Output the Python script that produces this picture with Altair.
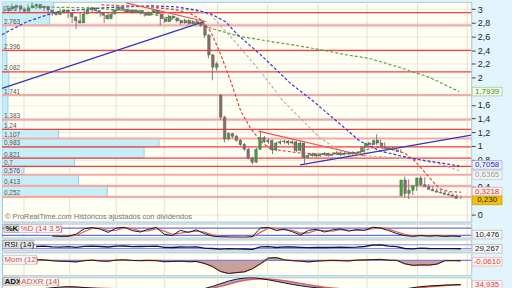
import altair as alt
import pandas as pd

FONT = "Liberation Sans"

# ---------------- price candles (daily-ish, index based) ----------------
opens = [2.98, 3.01, 3.03, 3.05, 3.00, 2.97, 3.02, 3.05, 3.07, 3.02,
         3.04, 2.99, 2.95, 2.92, 2.96, 2.99, 2.95, 2.89, 2.83, 2.80,
         2.93, 2.99, 3.02, 2.98, 2.95, 2.91, 2.86, 2.93, 2.99, 3.03,
         3.00, 2.96, 2.99, 2.95, 2.98, 2.94, 2.91, 2.95, 2.98, 2.93,
         2.86, 2.82, 2.90, 2.87, 2.83, 2.80, 2.84, 2.79, 2.82, 2.80,
         2.77, 2.62, 2.33, 2.15, 1.74, 1.42, 1.10, 1.18, 1.14, 1.08,
         1.02, 0.95, 0.82, 0.76, 0.95, 1.12, 1.06, 1.08, 0.94, 1.04,
         1.06, 1.07, 1.04, 1.06, 0.93, 1.04, 0.83, 0.86, 0.88, 0.85,
         0.87, 0.89, 0.86, 0.88, 0.90, 0.87, 0.89, 0.88, 0.90, 0.89,
         0.91, 0.98, 1.04, 1.02, 1.08, 1.04, 0.98, 0.96, 0.97, 0.94,
         0.27, 0.50, 0.30, 0.35, 0.42, 0.53, 0.43, 0.40, 0.36, 0.34,
         0.32, 0.31, 0.29, 0.28, 0.26]
highs = [3.04, 3.06, 3.08, 3.07, 3.02, 3.03, 3.07, 3.10, 3.08, 3.06,
         3.05, 3.00, 2.97, 2.97, 3.01, 3.00, 2.96, 2.90, 2.86, 2.95,
         3.01, 3.04, 3.03, 2.99, 2.96, 2.92, 2.95, 3.00, 3.05, 3.04,
         3.01, 3.01, 3.00, 3.00, 2.99, 2.95, 2.97, 3.00, 2.99, 2.94,
         2.88, 2.92, 2.91, 2.88, 2.85, 2.86, 2.85, 2.84, 2.85, 2.82,
         2.78, 2.64, 2.35, 2.23, 1.76, 1.44, 1.20, 1.19, 1.16, 1.10,
         1.04, 0.97, 0.84, 0.97, 1.22, 1.14, 1.11, 1.09, 1.06, 1.08,
         1.09, 1.08, 1.08, 1.07, 1.07, 1.05, 0.88, 0.90, 0.89, 0.89,
         0.91, 0.90, 0.90, 0.92, 0.91, 0.91, 0.90, 0.92, 0.91, 0.93,
         1.00, 1.06, 1.05, 1.17, 1.09, 1.05, 0.99, 0.99, 0.98, 0.95,
         0.55, 0.51, 0.37, 0.44, 0.56, 0.54, 0.44, 0.41, 0.38, 0.36,
         0.34, 0.32, 0.30, 0.29, 0.27]
lows = [2.96, 2.99, 3.00, 2.98, 2.95, 2.96, 3.00, 3.03, 3.00, 3.00,
        2.97, 2.93, 2.90, 2.91, 2.94, 2.93, 2.87, 2.80, 2.71, 2.79,
        2.91, 2.97, 2.96, 2.93, 2.89, 2.80, 2.85, 2.92, 2.98, 2.98,
        2.95, 2.95, 2.93, 2.94, 2.92, 2.89, 2.90, 2.94, 2.91, 2.76,
        2.80, 2.81, 2.85, 2.81, 2.77, 2.79, 2.77, 2.78, 2.78, 2.74,
        2.58, 2.28, 1.96, 2.10, 1.38, 1.05, 1.08, 1.11, 1.06, 1.00,
        0.93, 0.80, 0.73, 0.75, 0.94, 1.04, 1.03, 0.88, 0.92, 1.02,
        1.03, 1.01, 1.02, 0.91, 0.92, 0.73, 0.82, 0.84, 0.83, 0.84,
        0.86, 0.84, 0.85, 0.87, 0.85, 0.86, 0.86, 0.87, 0.87, 0.88,
        0.90, 0.97, 1.00, 1.01, 1.02, 0.97, 0.94, 0.95, 0.92, 0.90,
        0.24, 0.22, 0.28, 0.34, 0.41, 0.41, 0.38, 0.34, 0.32, 0.30,
        0.29, 0.27, 0.26, 0.24, 0.22]
closes = [3.01, 3.03, 3.05, 3.00, 2.97, 3.02, 3.05, 3.07, 3.02, 3.04,
          2.99, 2.95, 2.92, 2.96, 2.99, 2.95, 2.89, 2.83, 2.80, 2.93,
          2.99, 3.02, 2.98, 2.95, 2.91, 2.86, 2.93, 2.99, 3.03, 3.00,
          2.96, 2.99, 2.95, 2.98, 2.94, 2.91, 2.95, 2.98, 2.93, 2.86,
          2.82, 2.90, 2.87, 2.83, 2.80, 2.84, 2.79, 2.82, 2.80, 2.77,
          2.62, 2.33, 2.15, 2.20, 1.42, 1.10, 1.18, 1.14, 1.08, 1.02,
          0.95, 0.82, 0.76, 0.95, 1.12, 1.06, 1.08, 0.94, 1.04, 1.06,
          1.07, 1.04, 1.06, 0.93, 1.04, 0.83, 0.86, 0.88, 0.85, 0.87,
          0.89, 0.86, 0.88, 0.90, 0.87, 0.89, 0.88, 0.90, 0.89, 0.91,
          0.98, 1.04, 1.02, 1.08, 1.04, 0.98, 0.96, 0.97, 0.94, 0.92,
          0.50, 0.30, 0.35, 0.42, 0.53, 0.43, 0.40, 0.36, 0.34, 0.32,
          0.31, 0.29, 0.28, 0.26, 0.23]

# vertical month grid (candle index)
grid_idx = [5, 16.4, 28, 40, 53.3, 65.8, 78.4, 90.6, 103.2, 115.6]

# y-axis ticks (1.8, 0.6 and 0.2 sit under the price tags)
y_ticks = [0, 0.4, 0.8, 1.0, 1.2, 1.4, 1.6, 2.0, 2.2, 2.4, 2.6, 2.8, 3.0]

# support / resistance levels
level_values = [2.95, 2.763, 2.396, 2.082, 1.741, 1.383, 1.24, 1.107, 0.983, 0.821, 0.7, 0.576, 0.413, 0.252]
level_kind = ["strong", "weak", "strong", "strong", "weak", "weak", "strong", "weak",
              "strong", "strong", "strong", "weak", "weak", "weak"]

# volume by price
vp_low = [0.252, 0.413, 0.576, 0.7, 0.821, 0.983, 1.107, 1.24, 1.383, 1.741, 2.082, 2.396, 2.763, 2.95]
vp_high = [0.413, 0.576, 0.7, 0.821, 0.983, 1.107, 1.24, 1.383, 1.741, 2.082, 2.396, 2.763, 2.95, 3.11]
vp_volume = [106, 77, 22, 73, 143, 158, 57, 5, 6, 7, 5, 4, 48, 52]
vp_text = ["0,252", "0,413", "0,576", "0,7", "0,821", "0,983", "1,107", "1,24", "1,383",
           "1,741", "2,082", "2,396", "2,763", "2,95"]

# moving averages (dashed)
green_idx = [6.9, 21.8, 34.2, 42.9, 47.9, 52.9, 59.1, 65.3, 71.5, 78.9, 85.1, 91.3, 98.8, 106.2, 113.6]
green_val = [3.035, 3.02, 2.962, 2.846, 2.787, 2.70, 2.598, 2.54, 2.482, 2.409, 2.336, 2.278, 2.147, 2.001, 1.7939]
blue_idx = [-0.5, 5.7, 13.1, 24.3, 36.7, 42.9, 47.9, 51.6, 55.3, 58.3, 64.0, 71.5, 77.2, 83.9, 88.8, 93.8, 101.2, 107.4, 113.6]
blue_val = [2.627, 2.817, 2.962, 3.02, 3.05, 3.035, 2.99, 2.933, 2.817, 2.627, 2.336, 1.914, 1.652, 1.317, 1.07, 0.924, 0.822, 0.764, 0.7058]
grey_idx = [36.7, 46.6, 51.6, 58.3, 64.0, 69.7, 74.7, 78.9, 83.9, 91.3, 102.0, 108.7, 113.6]
grey_val = [3.02, 2.99, 2.918, 2.482, 2.089, 1.652, 1.361, 1.114, 0.924, 0.851, 0.808, 0.735, 0.6365]
red_idx = [24.3, 36.7, 42.9, 46.6, 49.1, 51.6, 54.1, 56.6, 59.1, 61.5, 64.0, 66.5, 70.2, 73.9, 78.9,
           83.9, 88.8, 92.6, 96.3, 100.0, 102.5, 106.2, 108.7, 111.2, 114.1]
red_val = [3.064, 3.035, 2.99, 2.933, 2.846, 2.671, 2.336, 1.943, 1.506, 1.259, 1.07, 0.953, 0.924, 0.895, 0.88,
           0.88, 0.91, 0.983, 0.953, 0.895, 0.779, 0.531, 0.371, 0.328, 0.3218]

# trend lines (solid)
tl_blue1_idx, tl_blue1_val = [-0.5, 49.9], [1.841, 2.817]
tl_blue2_idx, tl_blue2_val = [73.9, 116.6], [0.72, 1.157]
tl_red1_idx, tl_red1_val = [63.5, 90.1], [1.215, 0.851]
tl_red2_idx, tl_red2_val = [30.5, 50.4], [3.093, 2.817]

# price tags
tag_values = [1.7939, 0.7058, 0.6365, 0.3218, 0.230]
tag_texts = ["1,7939", "0,7058", "0,6365", "0,3218", "0,230"]

# ---------------- indicators ----------------
stoch_idx = list(range(12, 115, 2))
stoch_k = [15, 12, 14, 30, 75, 85, 72, 45, 80, 88, 60, 48, 70, 86, 30, 18, 62, 45, 66, 35,
           14, 8, 6, 5, 4, 10, 82, 86, 60, 72, 50, 22, 62, 70, 48, 66, 74, 55, 68, 62,
           88, 80, 60, 35, 18, 12, 20, 14, 18, 12, 16, 10.476]
stoch_d = [18, 14, 13, 20, 50, 78, 80, 60, 62, 82, 75, 55, 58, 76, 55, 28, 38, 50, 56, 48,
           25, 12, 8, 6, 5, 6, 45, 80, 75, 66, 62, 38, 42, 64, 60, 56, 68, 64, 62, 64,
           76, 84, 72, 50, 28, 16, 16, 16, 16, 15, 14, 13]
stoch_levels = [80, 20]

osc_idx = list(range(8, 115, 2))
rsi = [52, 55, 48, 46, 50, 44, 54, 56, 52, 47, 55, 57, 50, 52, 54, 55, 44, 42, 47, 45,
       48, 36, 32, 26, 30, 28, 27, 24, 48, 50, 42, 48, 47, 44, 40, 43, 42, 44, 45, 44,
       46, 52, 66, 68, 56, 50, 32, 29, 36, 32, 31, 30, 30, 29.267]
rsi_levels = [70, 30]
mom = [0.10, 0.05, -0.05, -0.12, -0.15, -0.2, -0.05, 0.02, -0.08, -0.12,
       0.03, 0.06, -0.02, -0.05, 0.0, -0.04, -0.18, -0.15, -0.12, -0.18,
       -0.15, -0.4, -0.8, -1.45, -1.72, -1.6, -1.5, -1.1, -0.45, 0.3,
       0.35, 0.05, -0.05, -0.1, -0.2, -0.1, -0.05, 0.0, -0.05, -0.08,
       0.02, 0.05, 0.1, 0.12, 0.02, 0.0, -0.45, -0.65, -0.6, -0.62,
       -0.5, -0.05, -0.04, -0.061]
adx = [15, 18, 22, 25, 27, 26, 23, 20, 18, 16, 15, 14, 13, 13, 12, 12, 13, 14, 14, 14,
       15, 18, 28, 40, 52, 61, 66, 68, 64, 58, 51, 44, 37, 31, 26, 22, 19, 17, 16, 15,
       15, 14, 14, 14, 14, 13, 16, 22, 27, 30, 32, 34, 35, 36]
adxr = [14, 15, 17, 19, 21, 22, 22, 21, 20, 19, 18, 17, 16, 15, 14, 14, 13, 13, 13, 13,
        14, 15, 20, 28, 38, 48, 56, 61, 63, 62, 59, 54, 48, 42, 36, 30, 25, 21, 18, 16,
        15, 15, 14, 14, 14, 14, 15, 18, 22, 26, 29, 32, 34, 34.935]

# ---------------- helpers ----------------
W = 472
H_MAIN, H_STO, H_RSI, H_MOM, H_ADX = 221, 14, 11, 23, 11
TAG_X = 488
TAG_SHAPE = "M-1,-0.29L1,-0.29L1,0.29L-1,0.29Z"
ONE = pd.DataFrame({"a": [0]})


def xs():
    return alt.Scale(domain=[-0.5, 116.6], nice=False, zero=False)


def XI():
    return alt.X("i:Q", scale=xs(), axis=None)


def vgrid():
    return alt.Chart(pd.DataFrame({"i": grid_idx})).mark_rule(
        color="#e4e0d0", strokeWidth=1).encode(x=XI())


def box_label(x0, x1, y0, y1, text, fill, stroke, color, weight="normal"):
    r = alt.Chart(ONE).mark_rect(fill=fill, stroke=stroke, strokeWidth=0.7).encode(
        x=alt.value(x0), x2=alt.value(x1), y=alt.value(y0), y2=alt.value(y1))
    t = alt.Chart(ONE).mark_text(text=text, align="left", baseline="middle", font=FONT,
                                 fontSize=8, fontWeight=weight, color=color).encode(
        x=alt.value(x0 + 1.5), y=alt.value((y0 + y1) / 2 + 0.5))
    return [r, t]


def value_tag(value, text, ychan, fill, stroke, color, y_off=0):
    base = alt.Chart(pd.DataFrame({"v": [value], "t": [text]})).encode(
        x=alt.value(TAG_X), y=ychan("v"))
    b = base.mark_point(shape=TAG_SHAPE, size=900, filled=True, fill=fill, stroke=stroke,
                        strokeWidth=0.7, opacity=1, yOffset=y_off)
    t = base.mark_text(font=FONT, fontSize=8, color=color, yOffset=y_off,
                       align="center", baseline="middle").encode(text="t:N")
    return [b, t]


def line_df(idx, val):
    return pd.DataFrame({"i": idx, "v": val})


# ---------------- main panel ----------------
y_main = alt.Scale(domain=[-0.109, 3.108], nice=False, zero=False)
main_axis = alt.Axis(orient="right", values=y_ticks,
                     labelExpr="replace(toString(round(datum.value*10)/10), '.', ',')",
                     grid=True, gridColor="#ece9de", domain=False, ticks=True, tickSize=4,
                     tickColor="#444", labelColor="#222", labelFontSize=9, labelFont=FONT,
                     labelPadding=2, labelOverlap=False, title=None)


def YM(field):
    return alt.Y(field + ":Q", scale=y_main, axis=main_axis)


def scale_y(scale):
    return lambda field: alt.Y(field + ":Q", scale=scale, axis=None)


candles = pd.DataFrame({"i": list(range(len(closes))), "open": opens, "high": highs,
                        "low": lows, "close": closes})
candles["dir"] = ["up" if c >= o else "down" for o, c in zip(opens, closes)]

vp = pd.DataFrame({"low": vp_low, "high": vp_high, "vol": vp_volume, "t": vp_text})
levels = pd.DataFrame({"v": level_values, "kind": level_kind})

vp_bars = alt.Chart(vp).mark_rect(fill="#c6eef7", stroke="#88c6d6", strokeWidth=0.8, clip=True).encode(
    x=alt.X("vol:Q", scale=alt.Scale(domain=[0, W], nice=False), axis=None),
    x2=alt.value(0), y=YM("low"), y2="high:Q")
vp_lbl = alt.Chart(vp).mark_text(align="left", baseline="bottom", dy=-0.5, font=FONT,
                                 fontSize=6.5, color="#555").encode(
    x=alt.value(2), y=YM("low"), text="t:N")

lvl_weak = alt.Chart(levels).transform_filter("datum.kind == 'weak'").mark_rule(
    color="#f4a9a9", strokeWidth=2.2).encode(y=YM("v"))
lvl_strong = alt.Chart(levels).transform_filter("datum.kind == 'strong'").mark_rule(
    color="#ff3a3a", strokeWidth=1.3).encode(y=YM("v"))


def dashed(idx, val, color, width=1.2):
    return alt.Chart(line_df(idx, val)).mark_line(color=color, strokeDash=[3, 2],
                                                 strokeWidth=width, clip=True).encode(
        x=XI(), y=YM("v"))


def solid(idx, val, color, width=1.3):
    return alt.Chart(line_df(idx, val)).mark_line(color=color, strokeWidth=width, clip=True).encode(
        x=XI(), y=YM("v"))


wicks = alt.Chart(candles).mark_rule(color="#7c7c7c", strokeWidth=1, clip=True).encode(
    x=XI(), y=YM("low"), y2="high:Q")
bodies = alt.Chart(candles).mark_bar(size=2.6, stroke="#505050", strokeWidth=0.4, clip=True).encode(
    x=XI(), y=YM("open"), y2="close:Q",
    color=alt.Color("dir:N", scale=alt.Scale(domain=["up", "down"], range=["#3aa83a", "#8f6b6b"]),
                    legend=None))

watermark = alt.Chart(ONE).mark_text(
    text="© ProRealTime.com  Históricos ajustados con dividendos", align="left",
    baseline="middle", font=FONT, fontSize=7.5, color="#777").encode(
    x=alt.value(3), y=alt.value(216))

strip = alt.Chart(ONE).mark_rect(opacity=0).encode(
    x=alt.value(W), x2=alt.value(512), y=alt.value(0), y2=alt.value(H_MAIN))

tag_styles = [("#f3fbe9", "#9cc08a", "#3a8c2a", 0),
              ("#eef1ff", "#9aa0d4", "#2a2ab0", -1),
              ("#f5f5f5", "#c4c4c4", "#9c9c9c", 4.5),
              ("#fff1f1", "#e2a2a2", "#d03030", -0.5),
              ("#f4c000", "#c89a00", "#222222", 2)]
tags = []
for v, t, (f, s, c, off) in zip(tag_values, tag_texts, tag_styles):
    tags += value_tag(v, t, YM, f, s, c, off)

main = alt.layer(
    vgrid(), vp_bars, vp_lbl, lvl_weak, lvl_strong,
    dashed(green_idx, green_val, "#58a838"),
    dashed(grey_idx, grey_val, "#b4b4b4"),
    dashed(blue_idx, blue_val, "#3535d0"),
    dashed(red_idx, red_val, "#e84040"),
    solid(tl_blue1_idx, tl_blue1_val, "#3434c4"),
    solid(tl_blue2_idx, tl_blue2_val, "#3434c4"),
    solid(tl_red1_idx, tl_red1_val, "#f05050", 1.1),
    solid(tl_red2_idx, tl_red2_val, "#f05050", 1.1),
    wicks, bodies, watermark, strip, *tags
).resolve_scale(x="independent").properties(width=W, height=H_MAIN)

# ---------------- stochastic ----------------
y_sto = alt.Scale(domain=[3, 118], nice=False, zero=False)
YS = scale_y(y_sto)
sto_df = pd.DataFrame({"i": stoch_idx, "k": stoch_k, "d": stoch_d})
sto = alt.layer(
    vgrid(),
    alt.Chart(pd.DataFrame({"v": stoch_levels})).mark_rule(color="#6c6ce8", strokeWidth=1.2).encode(y=YS("v")),
    alt.Chart(sto_df).mark_line(color="#e86262", strokeWidth=1.3, clip=True).encode(x=XI(), y=YS("d")),
    alt.Chart(sto_df).mark_line(color="#1a1a2a", strokeWidth=1, clip=True).encode(x=XI(), y=YS("k")),
    *box_label(2, 17, 1, 9, "%K", "#dadada", "#9a9a9a", "#111", "bold"),
    *box_label(17, 60, 1, 9, "%D (14 3 5)", "#f6f6f6", "#bbbbbb", "#d84a4a"),
    *value_tag(stoch_k[-1], "10,476", YS, "#f7f7f7", "#b0b0b0", "#222", -2)
).properties(width=W, height=H_STO)

# ---------------- RSI ----------------
y_rsi = alt.Scale(domain=[13, 123], nice=False, zero=False)
YR = scale_y(y_rsi)
rsi_df = pd.DataFrame({"i": osc_idx, "v": rsi})
rsi_panel = alt.layer(
    vgrid(),
    alt.Chart(pd.DataFrame({"v": rsi_levels})).mark_rule(color="#8c8cf0", strokeWidth=1.2).encode(y=YR("v")),
    alt.Chart(rsi_df).mark_line(color="#10104a", strokeWidth=1.3, clip=True).encode(x=XI(), y=YR("v")),
    *box_label(1, 32, 1, 9, "RSI (14)", "#e4e4e4", "#a0a0a0", "#111"),
    *value_tag(rsi[-1], "29,267", YR, "#f7f7f7", "#b0b0b0", "#222")
).properties(width=W, height=H_RSI)

# ---------------- Momentum ----------------
y_mom = alt.Scale(domain=[-1.95, 1.04], nice=False, zero=False)
YO = scale_y(y_mom)
mom_df = pd.DataFrame({"i": osc_idx, "v": mom})
mom_df["neg"] = [min(m, 0) for m in mom]
mom_df["pos"] = [max(m, 0) for m in mom]
mom_df["zero"] = 0
mom_panel = alt.layer(
    vgrid(),
    alt.Chart(mom_df).mark_area(color="#c9a099", clip=True).encode(x=XI(), y=YO("neg"), y2="zero:Q"),
    alt.Chart(mom_df).mark_area(color="#98cc90", clip=True).encode(x=XI(), y=YO("pos"), y2="zero:Q"),
    alt.Chart(pd.DataFrame({"v": [0]})).mark_rule(color="#7c7cf0", strokeWidth=1.2).encode(y=YO("v")),
    alt.Chart(mom_df).mark_line(color="#e86a6a", strokeWidth=1.2, clip=True).encode(x=XI(), y=YO("v")),
    alt.Chart(mom_df).mark_line(color="#111", strokeWidth=0.9, clip=True).encode(x=XI(), y=YO("v")),
    *box_label(1, 35, 3, 12, "Mom (12)", "#f6f6f6", "#bbbbbb", "#e04a4a"),
    *value_tag(mom[-1], "-0,0610", YO, "#fff3f3", "#e0b0b0", "#e04040", 1)
).properties(width=W, height=H_MOM)

# ---------------- ADX ----------------
y_adx = alt.Scale(domain=[20, 70], nice=False, zero=False)
YA = scale_y(y_adx)
adx_df = pd.DataFrame({"i": osc_idx, "adx": adx, "adxr": adxr})
adx_panel = alt.layer(
    vgrid(),
    alt.Chart(adx_df).mark_area(color="#aab0ee", clip=True).encode(x=XI(), y=YA("adx"), y2="adxr:Q"),
    alt.Chart(adx_df).mark_line(color="#e25a5a", strokeWidth=1.4, clip=True).encode(x=XI(), y=YA("adxr")),
    alt.Chart(adx_df).mark_line(color="#111", strokeWidth=1, clip=True).encode(x=XI(), y=YA("adx")),
    *box_label(1, 18, 0, 8, "ADX", "#dadada", "#9a9a9a", "#111", "bold"),
    *box_label(18, 57, 0, 8, "ADXR (14)", "#f6f6f6", "#bbbbbb", "#e04a4a"),
    *value_tag(adxr[-1], "34,935", YA, "#fff3f3", "#e0b0b0", "#e04040")
).properties(width=W, height=H_ADX)

chart = alt.vconcat(main, sto, rsi_panel, mom_panel, adx_panel, spacing=2, bounds="flush").properties(
    background="#e3f5fc", padding=0
).configure_view(fill="#fffff4", stroke="#a8c4d0", strokeWidth=1)

chart.save("out.html", embed_options={"renderer": "svg", "actions": False})
